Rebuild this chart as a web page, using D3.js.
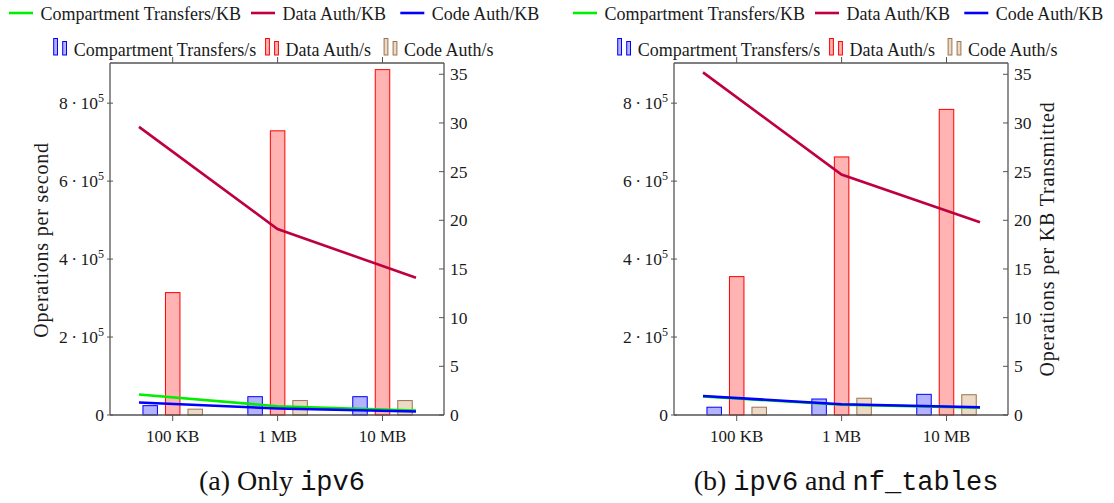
<!DOCTYPE html>
<html>
<head>
<meta charset="utf-8">
<script src="https://cdn.jsdelivr.net/npm/d3@7"></script>
<style>
  body { margin: 0; background: #fff; }
  svg text { font-family: "Liberation Serif", "Times New Roman", "DejaVu Serif", serif; }
  svg text .mono, svg text.mono { font-family: "Liberation Mono", "DejaVu Sans Mono", monospace; }
</style>
</head>
<body>
<svg id="chart" width="1114" height="503"></svg>
<script>
'use strict';

// categories on the x axis
const categories = ['100 KB', '1 MB', '10 MB'];

// (a) only ipv6 - operations per second (bars, left axis)
const ipv6TransfersPerSec = [2.4e4, 4.7e4, 4.7e4];
const ipv6DataAuthPerSec = [3.14e5, 7.29e5, 8.86e5];
const ipv6CodeAuthPerSec = [1.5e4, 3.7e4, 3.7e4];
// (a) operations per KB (lines, right axis)
const ipv6TransfersPerKB = [2.1, 0.9, 0.46];
const ipv6DataAuthPerKB = [29.6, 19.1, 14.1];
const ipv6CodeAuthPerKB = [1.28, 0.67, 0.36];

// (b) ipv6 and nf_tables
const nftTransfersPerSec = [2.0e4, 4.1e4, 5.3e4];
const nftDataAuthPerSec = [3.55e5, 6.62e5, 7.84e5];
const nftCodeAuthPerSec = [2.0e4, 4.3e4, 5.2e4];
const nftTransfersPerKB = [1.9, 1.05, 0.75];
const nftDataAuthPerKB = [35.2, 24.7, 19.8];
const nftCodeAuthPerKB = [1.95, 1.1, 0.79];

// tick values
const leftTicks = [0, 2e5, 4e5, 6e5, 8e5];
const rightTicks = [0, 5, 10, 15, 20, 25, 30, 35];

const lineLegend = ['Compartment Transfers/KB', 'Data Auth/KB', 'Code Auth/KB'];
const barLegend = ['Compartment Transfers/s', 'Data Auth/s', 'Code Auth/s'];

let svg = d3.select('#chart');

let plotTop = 63,
    plotBottom = 415,
    plotWidth = 334;

let yLeft = d3.scaleLinear().domain([0, 9.03e5]).range([plotBottom, plotTop]);
let yRight = d3.scaleLinear().domain([0, 36.16]).range([plotBottom, plotTop]);

let barStyle = [
    {fill: '#b3b3ff', stroke: '#0000ff'},
    {fill: '#ffb3b3', stroke: '#ff0000'},
    {fill: '#ecd9c6', stroke: '#9a7350'}
];
let lineColors = ['#00ee00', '#bf0040', '#0000ff'];
let axisColor = '#555';
let textColor = '#1a1a1a';

/**
 * Draw one panel (bars + lines + both axes)
 */
function drawPanel(x0, bars, lines, opts) {
    let g = svg.append('g');

    let xBar = d3.scalePoint().domain(categories).range([x0 + 62.7, x0 + plotWidth - 61.5]);
    let xLine = d3.scalePoint().domain(categories).range([x0 + 29, x0 + plotWidth - 28]);
    let offset = d3.scalePoint().domain([0, 1, 2]).range([-22.5, 22.5]);
    let barW = 14.5;

    // top frame + ticks
    g.append('line')
        .attr('x1', x0).attr('x2', x0 + plotWidth)
        .attr('y1', plotTop).attr('y2', plotTop)
        .attr('stroke', '#000').attr('stroke-width', 1);
    g.append('g').selectAll('line')
        .data(categories)
        .enter().append('line')
        .attr('x1', d => xBar(d)).attr('x2', d => xBar(d))
        .attr('y1', plotTop - 6).attr('y2', plotTop)
        .attr('stroke', axisColor);

    // bars
    bars.forEach(function(series, i) {
        g.append('g').selectAll('rect')
            .data(series)
            .enter().append('rect')
            .attr('x', (d, j) => xBar(categories[j]) + offset(i) - barW / 2)
            .attr('y', d => yLeft(d))
            .attr('width', barW)
            .attr('height', d => plotBottom - yLeft(d))
            .attr('fill', barStyle[i].fill)
            .attr('stroke', barStyle[i].stroke)
            .attr('stroke-width', 1);
    });

    // lines
    let line = d3.line()
        .x((d, j) => xLine(categories[j]))
        .y(d => yRight(d));
    lines.forEach(function(series, i) {
        g.append('path')
            .datum(series)
            .attr('d', line)
            .attr('fill', 'none')
            .attr('stroke', lineColors[i])
            .attr('stroke-width', 2.6);
    });

    // left axis
    let left = g.append('g').attr('transform', 'translate(' + x0 + ',0)');
    left.append('line')
        .attr('y1', plotTop).attr('y2', plotBottom)
        .attr('stroke', axisColor).attr('stroke-width', 1.3);
    let lt = left.selectAll('.lt')
        .data(leftTicks)
        .enter().append('g')
        .attr('transform', d => 'translate(0,' + yLeft(d) + ')');
    lt.append('line').attr('x1', -3).attr('x2', 3).attr('stroke', axisColor);
    lt.append('text')
        .attr('x', -6)
        .attr('y', 6)
        .attr('text-anchor', 'end')
        .attr('font-size', 17.5)
        .attr('fill', textColor)
        .each(function(d) {
            let t = d3.select(this);
            if (d === 0) {
                t.text('0');
                return;
            }
            t.append('tspan').text(d / 1e5);
            t.append('tspan').attr('dx', 3.5).text('\u00b7');
            t.append('tspan').attr('dx', 3.5).text('10');
            t.append('tspan').attr('dy', -7).attr('font-size', 12).text('5');
        });

    // bottom axis
    g.append('line')
        .attr('x1', x0).attr('x2', x0 + plotWidth)
        .attr('y1', plotBottom).attr('y2', plotBottom)
        .attr('stroke', axisColor).attr('stroke-width', 1.3);
    let bt = g.append('g').selectAll('g')
        .data(categories)
        .enter().append('g')
        .attr('transform', d => 'translate(' + xBar(d) + ',' + plotBottom + ')');
    bt.append('line').attr('y1', 0).attr('y2', 6).attr('stroke', axisColor);
    bt.append('text')
        .attr('y', 27)
        .attr('text-anchor', 'middle')
        .attr('font-size', 17)
        .attr('fill', textColor)
        .text(d => d);

    // right axis
    let right = g.append('g').attr('transform', 'translate(' + (x0 + plotWidth) + ',0)');
    right.append('line')
        .attr('y1', plotTop).attr('y2', plotBottom)
        .attr('stroke', axisColor).attr('stroke-width', 1.3);
    let rt = right.selectAll('.rt')
        .data(rightTicks)
        .enter().append('g')
        .attr('transform', d => 'translate(0,' + yRight(d) + ')');
    rt.append('line').attr('x1', -5).attr('x2', 0).attr('stroke', axisColor);
    rt.append('text')
        .attr('x', 6)
        .attr('y', 6)
        .attr('font-size', 17.5)
        .attr('fill', textColor)
        .text(d => d);

    // axis labels
    if (opts.leftLabel) {
        g.append('text')
            .attr('transform', 'translate(' + (x0 - 62) + ',240) rotate(-90)')
            .attr('text-anchor', 'middle')
            .attr('font-size', 20)
            .attr('letter-spacing', 0.8)
            .attr('fill', textColor)
            .text(opts.leftLabel);
    }
    if (opts.rightLabel) {
        g.append('text')
            .attr('transform', 'translate(' + (x0 + plotWidth + 46) + ',239) rotate(-90)')
            .attr('text-anchor', 'middle')
            .attr('font-size', 20)
            .attr('letter-spacing', 0.8)
            .attr('fill', textColor)
            .text(opts.rightLabel);
    }

    // legend row 1 (lines)
    let lx = [x0 - 101, x0 + 141, x0 + 290.3];
    lineLegend.forEach(function(name, i) {
        g.append('line')
            .attr('x1', lx[i]).attr('x2', lx[i] + 24)
            .attr('y1', 13).attr('y2', 13)
            .attr('stroke', lineColors[i]).attr('stroke-width', 2.6);
        g.append('text')
            .attr('x', lx[i] + 31.5)
            .attr('y', 19.5)
            .attr('font-size', 18)
            .attr('fill', textColor)
            .text(name);
    });

    // legend row 2 (bars)
    let bx = [x0 - 56.3, x0 + 155.6, x0 + 274.1];
    barLegend.forEach(function(name, i) {
        g.append('rect')
            .attr('x', bx[i]).attr('y', 38.5)
            .attr('width', 3.8).attr('height', 16.5)
            .attr('fill', barStyle[i].fill).attr('stroke', barStyle[i].stroke);
        g.append('rect')
            .attr('x', bx[i] + 9).attr('y', 41.5)
            .attr('width', 3.8).attr('height', 13.5)
            .attr('fill', barStyle[i].fill).attr('stroke', barStyle[i].stroke);
        g.append('text')
            .attr('x', bx[i] + 20)
            .attr('y', 55.5)
            .attr('font-size', 18)
            .attr('fill', textColor)
            .text(name);
    });

    // caption
    let cap = g.append('text')
        .attr('x', x0 + plotWidth / 2 + 5)
        .attr('y', 490)
        .attr('text-anchor', 'middle')
        .attr('font-size', 28)
        .attr('fill', '#111');
    opts.caption.forEach(function(part) {
        cap.append('tspan')
            .attr('class', part.mono ? 'mono' : null)
            .attr('font-size', part.mono ? 27 : 28)
            .text(part.text);
    });
}

drawPanel(110,
    [ipv6TransfersPerSec, ipv6DataAuthPerSec, ipv6CodeAuthPerSec],
    [ipv6TransfersPerKB, ipv6DataAuthPerKB, ipv6CodeAuthPerKB],
    {
        leftLabel: 'Operations per second',
        caption: [{text: '(a) Only '}, {text: 'ipv6', mono: true}]
    });

drawPanel(674,
    [nftTransfersPerSec, nftDataAuthPerSec, nftCodeAuthPerSec],
    [nftTransfersPerKB, nftDataAuthPerKB, nftCodeAuthPerKB],
    {
        rightLabel: 'Operations per KB Transmitted',
        caption: [{text: '(b) '}, {text: 'ipv6', mono: true}, {text: ' and '}, {text: 'nf_tables', mono: true}]
    });
</script>
</body>
</html>
